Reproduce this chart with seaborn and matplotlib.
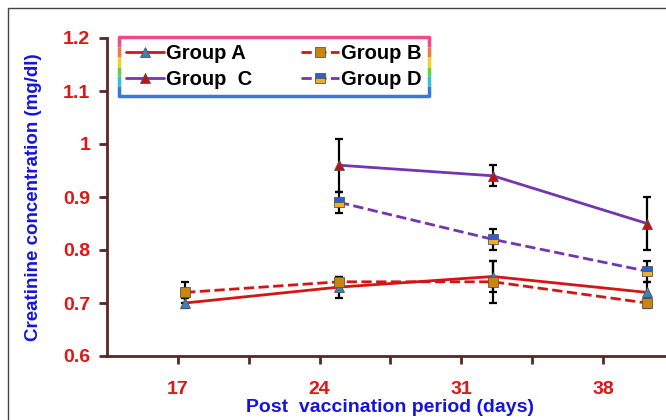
import seaborn as sns
import matplotlib.pyplot as plt
import numpy as np
import pandas as pd
from matplotlib.patches import Rectangle
from matplotlib.collections import LineCollection

# -------------------
# Data
# -------------------
days = [17, 24, 31, 38]
group_a = [0.70, 0.73, 0.75, 0.72]
group_a_err = [0.01, 0.02, 0.03, 0.02]
group_b = [0.72, 0.74, 0.74, 0.70]
group_b_err = [0.02, 0.01, 0.04, 0.01]
days_cd = [24, 31, 38]
group_c = [0.96, 0.94, 0.85]
group_c_err = [0.05, 0.02, 0.05]
group_d = [0.89, 0.82, 0.76]
group_d_err = [0.02, 0.02, 0.02]
x_labels = ["17", "24", "31", "38"]
y_ticks = [0.6, 0.7, 0.8, 0.9, 1.0, 1.1, 1.2]
y_labels = ["0.6", "0.7", "0.8", "0.9", "1", "1.1", "1.2"]

# -------------------
# Styling
# -------------------
sns.set_style("white")
plt.rcParams["font.family"] = ["Liberation Sans", "DejaVu Sans"]
plt.rcParams["font.weight"] = "bold"

spine_col = "#5a2626"
red = "#d41515"
purple = "#7535b0"

fig = plt.figure(figsize=(6.66, 4.2), dpi=100)
ax = fig.add_axes([107 / 666, 64 / 420, 567 / 666, 318 / 420])

series = [
    ("Group A", days, group_a, group_a_err, red, "-", "^", "#3f7fb5", "#3f7fb5", "full"),
    ("Group  C", days_cd, group_c, group_c_err, purple, "-", "^", "#c41010", "#c41010", "full"),
    ("Group B", days, group_b, group_b_err, red, "--", "s", "#c8860e", "#c8860e", "full"),
    ("Group D", days_cd, group_d, group_d_err, purple, "--", "s", "#3060d0", "#f0b020", "top"),
]

for name, xs, ys, errs, col, ls, mk, mfc, mfc_alt, fs in series:
    df = pd.DataFrame({"Day": xs, "Value": ys})
    ax.errorbar(xs, ys, yerr=errs, fmt="none", ecolor="black",
                elinewidth=1.6, capsize=3, capthick=1.6, zorder=2)
    sns.lineplot(data=df, x="Day", y="Value", ax=ax, color=col, linestyle=ls,
                 linewidth=2, marker=mk, markersize=6.5, markerfacecolor=mfc,
                 markerfacecoloralt=mfc_alt, fillstyle=fs,
                 markeredgecolor="#555555", markeredgewidth=0.6,
                 label=name, zorder=3)

# -------------------
# Axes
# -------------------
x0, x1 = 13.45, 39.23
ax.set_xlim(x0, x1)
ax.set_ylim(0.6, 1.2)
tick_pos = np.linspace(x0, x1, 9)[1:]
ax.set_xticks(tick_pos)
ax.set_xticklabels([x_labels[i // 2] if i % 2 == 0 else "" for i in range(8)])
ax.set_yticks(y_ticks)
ax.set_yticklabels(y_labels)

for s in ["top", "right"]:
    ax.spines[s].set_visible(False)
for s in ["left", "bottom"]:
    ax.spines[s].set_color(spine_col)
    ax.spines[s].set_linewidth(2)

ax.tick_params(axis="both", direction="out", length=6, width=2, color=spine_col,
               labelcolor="#e01515", labelsize=14, pad=6,
               bottom=True, left=True)
ax.tick_params(axis="x", pad=12)
for lbl in ax.get_xticklabels() + ax.get_yticklabels():
    lbl.set_fontweight("bold")

ax.set_xlabel("Post  vaccination period (days)", color="#1414e0",
              fontsize=14, fontweight="bold", labelpad=1)
ax.set_ylabel("Creatinine concentration (mg/dl)", color="#1414e0",
              fontsize=13.5, fontweight="bold", labelpad=15)

# -------------------
# Legend with a rainbow frame
# -------------------
leg = ax.legend(loc="upper left", bbox_to_anchor=(119 / 666, 1 - 37 / 420),
                bbox_transform=fig.transFigure, ncol=2, frameon=True,
                fancybox=False, handlelength=1.9, handletextpad=0.1,
                columnspacing=2.4, borderpad=0.35, labelspacing=0.35,
                borderaxespad=0, labelcolor="black",
                prop={"size": 14.5, "weight": "bold"})
leg.get_frame().set_edgecolor("none")

fig.canvas.draw()
bb = leg.get_window_extent().transformed(fig.transFigure.inverted())
lx0, ly0, lx1, ly1 = bb.x0, bb.y0, bb.x1, bb.y1
fig.add_artist(plt.Line2D([lx0, lx1], [ly1, ly1], color="#f04a8c", lw=2.5,
                          transform=fig.transFigure))
fig.add_artist(plt.Line2D([lx0, lx1], [ly0, ly0], color="#3a78e0", lw=2.5,
                          transform=fig.transFigure))
rainbow = ["#f04a8c", "#f07a40", "#f0d020", "#60d040", "#30c0d0", "#3a78e0"]
n = len(rainbow)
for xe in (lx0, lx1):
    yy = np.linspace(ly1, ly0, n + 1)
    segs = [[(xe, yy[i]), (xe, yy[i + 1])] for i in range(n)]
    fig.add_artist(LineCollection(segs, colors=rainbow, linewidths=2.5,
                                  transform=fig.transFigure))

# outer frame of the figure panel
fig.add_artist(Rectangle((8 / 666, -0.2), 1.2, 1 - 8 / 420 + 0.2, fill=False,
                         edgecolor="#444444", lw=1, transform=fig.transFigure))

fig.savefig("out.png", dpi=100)
plt.close()
